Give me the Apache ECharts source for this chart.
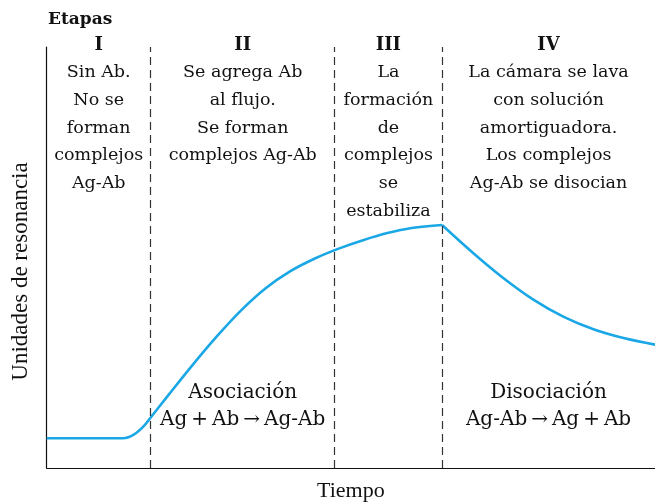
<!DOCTYPE html>
<html lang="es">
<head>
    <meta charset="UTF-8">
    <script src="https://cdn.jsdelivr.net/npm/echarts@6/dist/echarts.min.js"></script>
    <title>Etapas</title>
    <style>
        html, body { margin: 0; padding: 0; background: #fff; }
        #main { width: 655px; height: 502px; }
    </style>
</head>
<body>
<div id="main"></div>
<script>
    // curva de resonancia: subida (etapas I-III) y bajada (etapa IV)
    var tiempoSubida = [0, 12.59, 14.24, 15.88, 17.1, 20, 24, 28, 32, 36, 40, 44, 48, 52, 56, 60, 65];
    var ruSubida     = [7.05, 7.05, 7.84, 9.81, 12.0, 17.3, 24.5, 31.3, 37.5, 42.7, 46.7, 49.7, 52.1, 54.1, 55.8, 57.0, 57.72];
    var tiempoBajada = [65, 70, 75, 80, 85, 90, 95, 100];
    var ruBajada     = [57.72, 51.2, 45.2, 40.0, 35.9, 32.9, 30.8, 29.3];

    // limites de las etapas (eje x)
    var limites = [0, 17.1, 47.35, 65.0, 100];
    var etapas = ['I', 'II', 'III', 'IV'];
    var textos = [
        ['Sin Ab.', 'No se', 'forman', 'complejos', 'Ag-Ab'],
        ['Se agrega Ab', 'al flujo.', 'Se forman', 'complejos Ag-Ab'],
        ['La', 'formación', 'de', 'complejos', 'se', 'estabiliza'],
        ['La cámara se lava', 'con solución', 'amortiguadora.', 'Los complejos', 'Ag-Ab se disocian']
    ];
    var procesos = [
        null,
        ['Asociación', 'Ag\u2009+\u2009Ab\u2009\u2192\u2009Ag-Ab'],
        null,
        ['Disociación', 'Ag-Ab\u2009\u2192\u2009Ag\u2009+\u2009Ab']
    ];

    var FONT = '"DejaVu Serif", serif';
    var FONT_EJE = '"Liberation Serif", serif';
    var AZUL = '#1aa7e6';

    function pares(xs, ys) {
        return xs.map(function (x, i) { return [x, ys[i]]; });
    }

    var myChart = echarts.init(document.getElementById('main'));

    var option = {
        animation: false,
        title: {
            text: 'Etapas',
            left: 43, top: 6,
            textStyle: { fontFamily: FONT, fontWeight: 'bold', fontSize: 17, color: '#111' }
        },
        grid: { left: 46.7, right: 0, top: 47, bottom: 34, outerBoundsMode: 'none' },
        xAxis: {
            type: 'value', min: 0, max: 100,
            name: 'Tiempo', nameLocation: 'middle', nameGap: 12,
            nameTextStyle: { fontFamily: FONT_EJE, fontSize: 22, color: '#111', verticalAlign: 'top' },
            axisLine: { lineStyle: { color: '#111', width: 1.2 } },
            axisTick: { show: false }, axisLabel: { show: false }, splitLine: { show: false }
        },
        yAxis: {
            type: 'value', min: 0, max: 100,
            name: 'Unidades de resonancia', nameLocation: 'middle', nameGap: 14,
            nameTextStyle: { fontFamily: FONT_EJE, fontSize: 23, color: '#111', padding: [0, 28, 0, 0] },
            axisLine: { show: true, lineStyle: { color: '#111', width: 1.2 } },
            axisTick: { show: false }, axisLabel: { show: false }, splitLine: { show: false }
        },
        series: [
            {
                type: 'line', data: pares(tiempoSubida, ruSubida), smooth: 0.35,
                symbol: 'none', lineStyle: { color: AZUL, width: 2.6 },
                markLine: {
                    silent: true, symbol: 'none', label: { show: false },
                    lineStyle: { color: '#333', type: [8, 5], width: 1.2 },
                    data: limites.slice(1, 4).map(function (v) { return { xAxis: v }; })
                }
            },
            {
                type: 'line', data: pares(tiempoBajada, ruBajada), smooth: 0.35,
                symbol: 'none', lineStyle: { color: AZUL, width: 2.6 }
            }
        ]
    };
    myChart.setOption(option);

    // textos de cada etapa, centrados entre sus limites
    var graficos = [];
    etapas.forEach(function (e, i) {
        var cx = (myChart.convertToPixel({ gridIndex: 0 }, [limites[i], 0])[0] +
                  myChart.convertToPixel({ gridIndex: 0 }, [limites[i + 1], 0])[0]) / 2;
        graficos.push({
            type: 'text', x: cx, y: 45,
            style: { text: e, textAlign: 'center', textVerticalAlign: 'middle',
                     font: 'bold 18px ' + FONT, fill: '#111' }
        });
        graficos.push({
            type: 'text', x: cx, y: 59,
            style: { text: textos[i].join('\n'), textAlign: 'center', textVerticalAlign: 'top',
                     font: '17.5px ' + FONT, lineHeight: 27.7, fill: '#111' }
        });
        if (procesos[i]) {
            graficos.push({
                type: 'text', x: cx, y: 379,
                style: { text: procesos[i].join('\n'), textAlign: 'center', textVerticalAlign: 'top',
                         font: '20px ' + FONT, lineHeight: 27, fill: '#111' }
            });
        }
    });
    myChart.setOption({ graphic: graficos });
</script>
</body>
</html>
